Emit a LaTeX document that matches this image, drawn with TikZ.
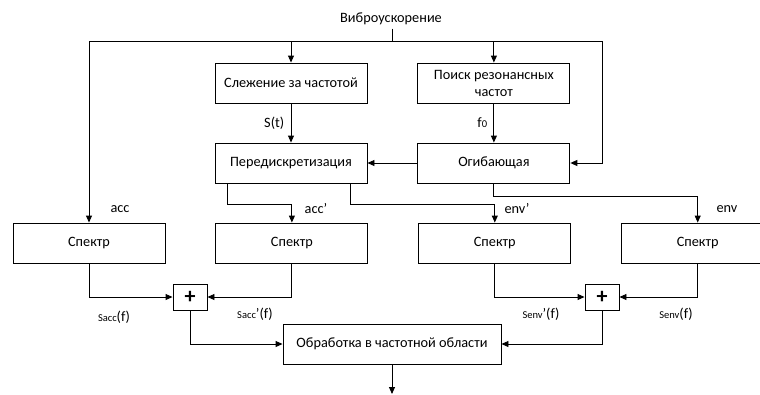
\documentclass[tikz,border=0pt]{standalone}
\usepackage{fontspec}
\setmainfont{Carlito}
\usepackage{tikz}
\usetikzlibrary{positioning,arrows.meta}

\tikzset{
  blk/.style={draw, line width=0.9pt, minimum width=152pt, minimum height=40pt,
    align=center, inner sep=2pt, font=\fontsize{14.3}{17}\selectfont},
  plus/.style={draw, line width=0.9pt, minimum width=34pt, minimum height=26pt,
    inner sep=0pt, font=\fontsize{22}{22}\selectfont\bfseries},
  arr/.style={line width=0.9pt, -{Triangle[length=7pt,width=6pt]}},
  lbl/.style={font=\fontsize{14.3}{16}\selectfont},
  sub/.style={font=\fontsize{14.3}{16}\selectfont}
}
\newcommand{\sm}[1]{{\fontsize{10.5}{12}\selectfont #1}}

\begin{document}
\begin{tikzpicture}[x=1pt, y=-1pt, node distance=80pt]
        \useasboundingbox (0,0) rectangle (760,394);
        \clip (0,0) rectangle (760,394);

        \node[lbl] (vib) at (391,19) {Виброускорение};
        \coordinate (split) at (392,41);
        \coordinate (rcorner) at (602,41);

        \node[blk] (track) at (291,83) {Слежение за частотой};
        \node[blk] (search) [right=50pt of track] {Поиск резонансных\\частот};
        \node[blk] (resamp) [below of=track] {Передискретизация};
        \node[blk] (envl) [below of=search] {Огибающая};

        \node[blk] (spA) at (89,243) {Спектр};
        \node[blk] (spB) [right=50pt of spA] {Спектр};
        \node[blk] (spC) [right=50pt of spB] {Спектр};
        \node[blk] (spD) [right=50pt of spC] {Спектр};

        \node[plus] (sumA) at (190,297) {+};
        \node[plus] (sumB) at (602,297) {+};
        \node[blk, minimum width=218pt] (proc) at (392,344) {Обработка в частотной области};
        \coordinate (out) at (392,394);

        % input distribution
        \draw[line width=0.9pt] (vib.south -| split) -- (split);
        \draw[arr] (split) -| (spA.north);
        \draw[arr] (split) -| (track.north);
        \draw[arr] (split) -| (search.north);
        \draw[arr] (split) -- (rcorner) |- (envl.east);

        \draw[arr] (track) -- node[lbl, left=3pt] {S(t)} (resamp);
        \draw[arr] (search) -- node[lbl, left=3pt] {f\sm{0}} (envl);
        \draw[arr] (envl) -- (resamp);

        % branches to the spectra
        \draw[arr] ([xshift=-64pt]resamp.south) -- ++(0,21) -| (spB.north);
        \draw[arr] ([xshift=59pt]resamp.south) -- ++(0,21) -| (spC.north);
        \draw[arr] (envl.south) -- ++(0,13) -| (spD.north);

        \node[lbl] (accl) at (120,209) {acc};
        \node[lbl] (accpl) at (316,209) {acc’};
        \node[lbl] (envpl) at (517,209) {env’};
        \node[lbl] (envlb) at (727,209) {env};

        % sums
        \draw[arr] (spA.south) |- (sumA.west);
        \draw[arr] (spB.south) |- (sumA.east);
        \draw[arr] (spC.south) |- (sumB.west);
        \draw[arr] (spD.south) |- (sumB.east);

        \node[sub] (saccl) at (114,317) {\sm{Sacc}(f)};
        \node[sub] (saccpl) at (255,314) {\sm{Sacc}'(f)};
        \node[sub] (senvpl) at (541,314) {\sm{Senv}'(f)};
        \node[sub] (senvl) at (676,314) {\sm{Senv}(f)};

        \draw[arr] (sumA.south) |- (proc.west);
        \draw[arr] (sumB.south) |- (proc.east);
        \draw[arr] (proc.south) -- (out);
  \end{tikzpicture}
\end{document}
